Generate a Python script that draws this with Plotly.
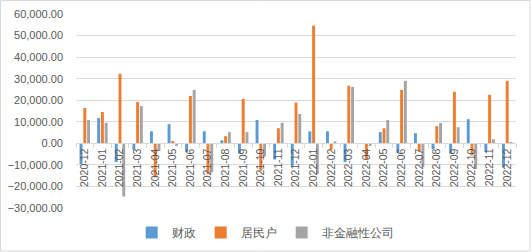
import plotly.graph_objects as go

categories = ["2020-12", "2021-01", "2021-02", "2021-03", "2021-04", "2021-05", "2021-06",
              "2021-07", "2021-08", "2021-09", "2021-10", "2021-11", "2021-12", "2022-01",
              "2022-02", "2022-03", "2022-04", "2022-05", "2022-06", "2022-07", "2022-08",
              "2022-09", "2022-10", "2022-11", "2022-12"]
fiscal = [-9600, 11700, -8700, -3000, 5600, 8900, -4000, 5600, 1400, -4800, 10800, -7500, -10800,
          5600, 5600, -8700, -300, 5200, -4500, 4700, -2700, -4800, 11200, -4000, -11100]
household = [16400, 14500, 32300, 19200, -15800, 1100, 22000, -14200, 3300, 20600, -12700, 7000, 18900,
             54600, -3000, 26700, -7300, 7000, 24800, -3600, 8000, 23900, -5600, 22500, 29000]
corporate = [10800, 9500, -24700, 17300, -3600, -1200, 24800, -13400, 5200, 5200, -6100, 9500, 13600,
             -14200, 900, 26200, -1200, 10800, 29000, -10800, 9400, 7500, -11900, 1900, 500]
series_names = ["财政", "居民户", "非金融性公司"]

colors = ["#5B9BD5", "#ED7D31", "#A5A5A5"]
W, H = 531, 252
ml, mr, mt, mb = 76, 15, 14, 44
ymin, ymax = -30000, 60000

fig = go.Figure()
for name, vals, c in zip(series_names, [fiscal, household, corporate], colors):
    fig.add_trace(go.Bar(x=categories, y=vals, name=name, marker=dict(color=c, line=dict(width=0))))

zero_pos = (0 - ymin) / (ymax - ymin)
font = "Liberation Sans, Arial, sans-serif"
fig.update_layout(
    width=W, height=H,
    margin=dict(l=ml, r=mr, t=mt, b=mb, autoexpand=False),
    paper_bgcolor="white", plot_bgcolor="white",
    barmode="group", bargap=0.36, bargroupgap=0.22,
    font=dict(family=font, color="#595959", size=11),
    showlegend=True,
    legend=dict(orientation="h", x=0.43, xanchor="center", y=0.02, yref="container", yanchor="bottom",
                font=dict(size=12, color="#595959"), itemwidth=30, traceorder="normal",
                tracegroupgap=0),
    xaxis=dict(type="category", anchor="free", position=zero_pos, tickangle=-90,
               showgrid=False, showline=True, linecolor="#D9D9D9", linewidth=1,
               ticks="outside", tickson="boundaries", ticklen=4, tickcolor="#D9D9D9",
               tickfont=dict(size=10.5, color="#595959"), fixedrange=True, automargin=False),
    yaxis=dict(range=[ymin, ymax], dtick=10000, tickformat=",.2f", showgrid=True,
               gridcolor="#D9D9D9", gridwidth=1, zeroline=False, showline=False,
               tickfont=dict(size=11, color="#595959"), ticklabelstandoff=12, automargin=False),
    separators=".,",
)
fig.add_shape(type="rect", xref="paper", yref="paper",
              x0=-ml / (W - ml - mr) + 0.5 / (W - ml - mr), x1=1 + (mr - 1) / (W - ml - mr),
              y0=-(mb - 1) / (H - mt - mb), y1=1 + (mt - 0.5) / (H - mt - mb),
              line=dict(color="#D9D9D9", width=1), layer="below")
fig.write_html("out.html")
